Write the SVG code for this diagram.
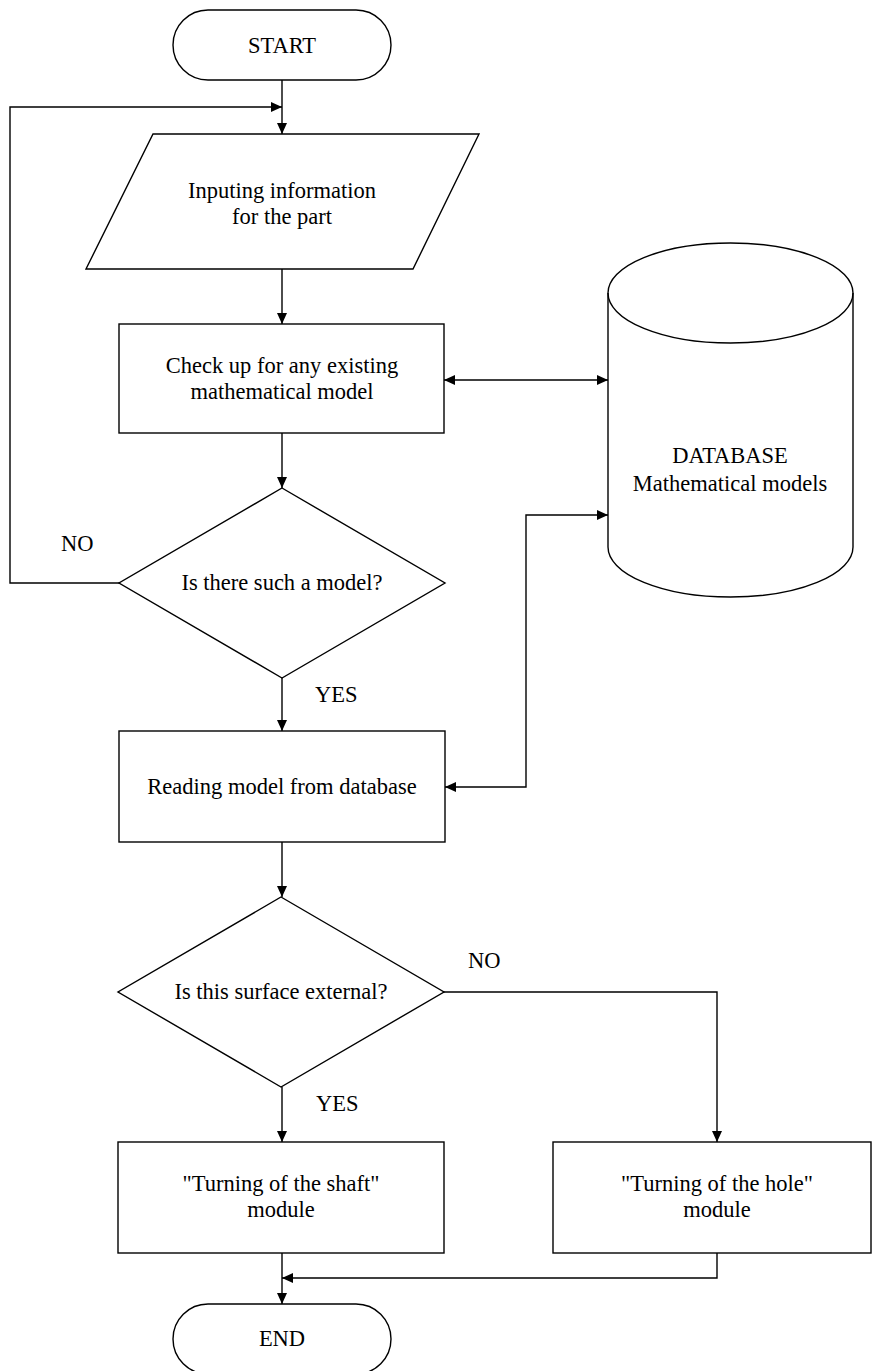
<svg xmlns="http://www.w3.org/2000/svg" width="872" height="1371" viewBox="0 0 872 1371">
<style>
.s{fill:#fff;stroke:#000;stroke-width:1.4}
.c{fill:none;stroke:#000;stroke-width:1.4}
text{font-family:"Liberation Serif","Times New Roman",serif;font-size:22.5px;fill:#000}
.m{text-anchor:middle}
</style>
<defs>
<marker id="ah" markerUnits="userSpaceOnUse" markerWidth="11" markerHeight="10" refX="11" refY="5" orient="auto-start-reverse">
<path d="M0,0 L11,5 L0,10 Z" fill="#000"/>
</marker>
</defs>
<rect width="872" height="1371" fill="#fff"/>
<g id="connectors">
<path class="c" d="M282,80 V134" marker-end="url(#ah)"/>
<path class="c" d="M119,583 H10 V107 H282" marker-end="url(#ah)"/>
<path class="c" d="M282,269 V324" marker-end="url(#ah)"/>
<path class="c" d="M444,380 H608" marker-start="url(#ah)" marker-end="url(#ah)"/>
<path class="c" d="M282,433 V488" marker-end="url(#ah)"/>
<path class="c" d="M282,678 V731" marker-end="url(#ah)"/>
<path class="c" d="M445,787 H526 V515 H608" marker-start="url(#ah)" marker-end="url(#ah)"/>
<path class="c" d="M282,842 V897" marker-end="url(#ah)"/>
<path class="c" d="M282,1087 V1142" marker-end="url(#ah)"/>
<path class="c" d="M444,992 H717 V1142" marker-end="url(#ah)"/>
<path class="c" d="M282,1253 V1304" marker-end="url(#ah)"/>
<path class="c" d="M717,1253 V1278 H282" marker-end="url(#ah)"/>
</g>
<g id="start">
<rect class="s" x="173" y="10" width="218" height="70" rx="35" ry="35"/>
<text class="m" x="282" y="53">START</text>
</g>
<g id="input">
<polygon class="s" points="153,134 479,134 413,269 86,269"/>
<text class="m" x="282" y="198">Inputing information</text>
<text class="m" x="282" y="224">for the part</text>
</g>
<g id="check">
<rect class="s" x="119" y="324" width="325" height="109"/>
<text class="m" x="282" y="373">Check up for any existing</text>
<text class="m" x="282" y="399">mathematical model</text>
</g>
<g id="database">
<path class="s" d="M608,293 A122.5,50 0 0 1 853,293 L853,547 A122.5,50 0 0 1 608,547 Z"/>
<path class="c" d="M608,293 A122.5,50 0 0 0 853,293"/>
<text class="m" x="730" y="463">DATABASE</text>
<text class="m" x="730" y="491">Mathematical models</text>
</g>
<g id="decision1">
<polygon class="s" points="282,488 445,583 282,678 119,583"/>
<text class="m" x="282" y="590">Is there such a model?</text>
</g>
<g id="label-no1"><text x="61" y="551">NO</text></g>
<g id="label-yes1"><text x="315" y="702">YES</text></g>
<g id="read">
<rect class="s" x="119" y="731" width="326" height="111"/>
<text class="m" x="282" y="794">Reading model from database</text>
</g>
<g id="decision2">
<polygon class="s" points="281,897 444,992 281,1087 118,992"/>
<text class="m" x="281" y="999">Is this surface external?</text>
</g>
<g id="label-no2"><text x="468" y="968">NO</text></g>
<g id="label-yes2"><text x="316" y="1111">YES</text></g>
<g id="shaft">
<rect class="s" x="118" y="1142" width="326" height="111"/>
<text class="m" x="281" y="1191">"Turning of the shaft"</text>
<text class="m" x="281" y="1217">module</text>
</g>
<g id="hole">
<rect class="s" x="553" y="1142" width="318" height="111"/>
<text class="m" x="717" y="1191">"Turning of the hole"</text>
<text class="m" x="717" y="1217">module</text>
</g>
<g id="end">
<rect class="s" x="173" y="1304" width="218" height="70" rx="35" ry="35"/>
<text class="m" x="282" y="1346">END</text>
</g>
</svg>
